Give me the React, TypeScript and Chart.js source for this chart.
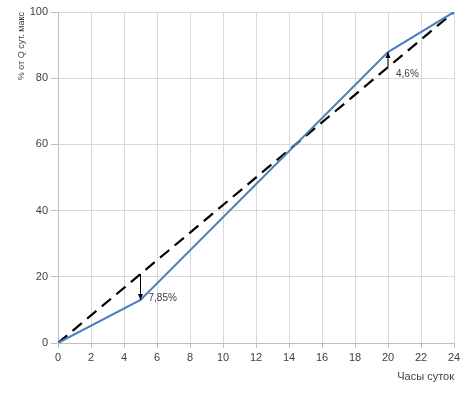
import React, { useEffect, useRef } from "react";
import { Chart, registerables } from "chart.js";

Chart.register(...registerables);

const actualHours = [0, 5, 20, 24];
const actualValues = [0, 13, 87.9, 100];
const uniformHours = [0, 24];
const uniformValues = [0, 100];
const arrowHours = [5, 20];
const arrowFrom = [20.83, 83.33];
const arrowTo = [13, 87.9];
const arrowLabels = ["7,85%", "4,6%"];
const xTitle = "Часы суток";
const yTitle = "% от Q сут. макс";

const FONT = "'Liberation Sans', Arial, sans-serif";

const arrowPlugin = {
  id: "arrows",
  afterDatasetsDraw(chart: any) {
    const { ctx, scales } = chart;
    const xs = scales.x;
    const ys = scales.y;
    ctx.save();
    arrowHours.forEach((h, i) => {
      const px = xs.getPixelForValue(h);
      const y1 = ys.getPixelForValue(arrowFrom[i]);
      const y2 = ys.getPixelForValue(arrowTo[i]);
      ctx.strokeStyle = "#000";
      ctx.fillStyle = "#000";
      ctx.lineWidth = 1;
      ctx.beginPath();
      ctx.moveTo(px, y1);
      ctx.lineTo(px, y2);
      ctx.stroke();
      const dir = y2 > y1 ? 1 : -1;
      ctx.beginPath();
      ctx.moveTo(px, y2);
      ctx.lineTo(px - 2.5, y2 - dir * 6);
      ctx.lineTo(px + 2.5, y2 - dir * 6);
      ctx.closePath();
      ctx.fill();
      ctx.font = `10px ${FONT}`;
      ctx.fillStyle = "#404040";
      ctx.textBaseline = "middle";
      ctx.textAlign = "left";
      const ly = i === 0 ? y2 - 2 : y1 + 7;
      ctx.fillText(arrowLabels[i], px + 8, ly);
    });
    ctx.restore();
  },
};

export default function App() {
  const ref = useRef<HTMLCanvasElement>(null);
  useEffect(() => {
    document.body.style.margin = "0";
    const chart = new Chart(ref.current as HTMLCanvasElement, {
      type: "line",
      data: {
        datasets: [
          {
            label: "actual",
            data: actualHours.map((h, i) => ({ x: h, y: actualValues[i] })),
            borderColor: "#4a7ebf",
            borderWidth: 2,
            pointRadius: 0,
            tension: 0,
          },
          {
            label: "uniform",
            data: uniformHours.map((h, i) => ({ x: h, y: uniformValues[i] })),
            borderColor: "#000000",
            borderWidth: 2.2,
            borderDash: [12, 7],
            pointRadius: 0,
          },
        ],
      },
      options: {
        animation: false,
        responsive: false,
        layout: { padding: { top: 12, right: 17, left: 0, bottom: 0 } },
        plugins: { legend: { display: false }, tooltip: { enabled: false } },
        scales: {
          x: {
            type: "linear",
            min: 0,
            max: 24,
            ticks: { stepSize: 2, color: "#404040", font: { family: FONT, size: 11 }, padding: 3 },
            grid: { color: "#d9d9d9", tickLength: 5, tickColor: "#bfbfbf" },
            border: { color: "#bfbfbf" },
            title: {
              display: true,
              text: xTitle,
              align: "end",
              color: "#404040",
              font: { family: FONT, size: 11 },
              padding: { top: 0, bottom: 11 },
            },
            afterFit: (s: any) => {
              s.height = 52;
            },
          },
          y: {
            min: 0,
            max: 100,
            ticks: { stepSize: 20, color: "#404040", font: { family: FONT, size: 11 }, padding: 3 },
            grid: { color: "#d9d9d9", tickLength: 7, tickColor: "#bfbfbf" },
            border: { color: "#bfbfbf" },
            title: {
              display: true,
              text: yTitle,
              align: "end",
              color: "#404040",
              font: { family: FONT, size: 9 },
              padding: { top: 16, bottom: 0 },
            },
            afterFit: (s: any) => {
              s.width = 58;
            },
          },
        },
      },
      plugins: [arrowPlugin],
    } as any);
    return () => chart.destroy();
  }, []);
  return <canvas ref={ref} width={471} height={395} style={{ display: "block" }} />;
}
